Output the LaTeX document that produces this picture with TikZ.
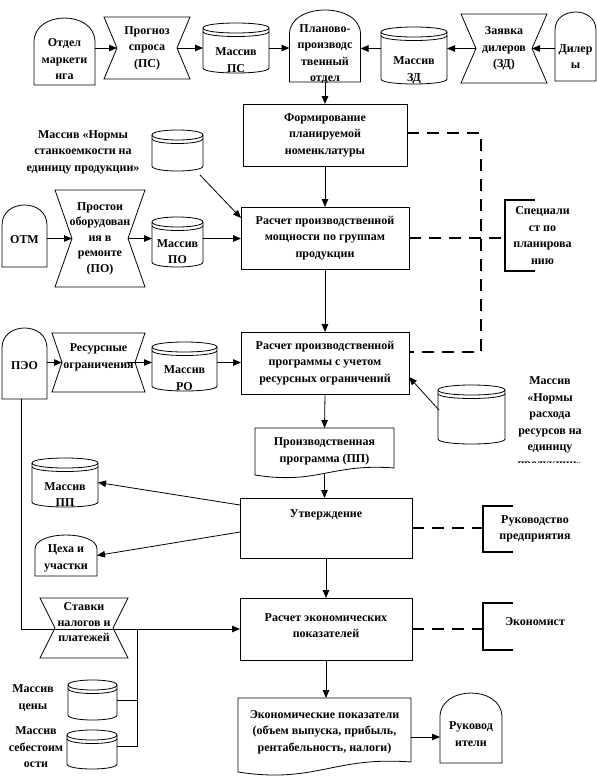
\documentclass[tikz,border=0pt]{standalone}
\usepackage{fontspec}
\setmainfont{Liberation Serif}
\usetikzlibrary{calc,arrows.meta}
\newcommand\drawcyl[1]{%
 \draw[shp] ($(#1.north west)+(0,5)$) .. controls ($(#1.north west)+(0,-1.667)$) and ($(#1.north east)+(0,-1.667)$) .. ($(#1.north east)+(0,5)$) -- ($(#1.south east)+(0,-5)$) .. controls ($(#1.south east)+(0,1.667)$) and ($(#1.south west)+(0,1.667)$) .. ($(#1.south west)+(0,-5)$) -- cycle;
 \draw[shp] ($(#1.north west)+(0,5)$) .. controls ($(#1.north west)+(0,11.667)$) and ($(#1.north east)+(0,11.667)$) .. ($(#1.north east)+(0,5)$);
 \draw[shp] ($(#1.north west)+(0,8.5)$) .. controls ($(#1.north west)+(0,15.167)$) and ($(#1.north east)+(0,15.167)$) .. ($(#1.north east)+(0,8.5)$);}
\newcommand\drawarch[2]{%
 \draw[shp] (#1.south west) -- ($(#1.north west)+(0,#2)$) .. controls ($(#1.north west)+(0,-#2/3)$) and ($(#1.north east)+(0,-#2/3)$) .. ($(#1.north east)+(0,#2)$) -- (#1.south east) -- cycle;}
\newcommand\drawbow[2]{%
 \draw[shp] (#1.north west) -- (#1.north east) -- ($(#1.east)+(-#2,0)$) -- (#1.south east) -- (#1.south west) -- ($(#1.west)+(#2,0)$) -- cycle;}
\newcommand\drawbox[1]{\draw[shp] (#1.north west) rectangle (#1.south east);}
\newcommand\drawbrk[1]{\draw[brk] ($(#1.north west)+(30,0)$) -- (#1.north west) -- (#1.south west) -- ($(#1.south west)+(30,0)$);}
\newcommand\drawdoc[4]{%
 \draw[shp] ($(#1.south east)+(0,-#4)$) -- (#1.north east) -- (#1.north west) -- (#1.south west) .. controls ($(#1.south west)!0.45!(#1.south east)+(0,#2)$) and ($(#1.south west)!0.55!(#1.south east)+(0,-#3)$) .. ($(#1.south east)+(0,-#4)$);}
\begin{document}
\begin{tikzpicture}[x=1pt,y=-1pt,
 fp/.style={rectangle,inner sep=0pt,outer sep=0pt},
 txt/.style={font=\fontsize{12}{16.5}\selectfont\bfseries,align=center,inner sep=0pt},
 txts/.style={font=\fontsize{12}{15.5}\selectfont\bfseries,align=center,inner sep=0pt},
 shp/.style={draw=black,line width=0.8pt},
 arr/.style={draw=black,line width=0.8pt,-{Triangle[length=8pt,width=6.5pt]}},
 ln/.style={draw=black,line width=0.8pt},
 dsh/.style={draw=black,line width=2.6pt,dash pattern=on 12pt off 8pt},
 brk/.style={draw=black,line width=1.4pt}]
\useasboundingbox (0,0) rectangle (597,782);
% ---- top row
\node[fp,minimum width=61pt,minimum height=67pt,label={[txt,yshift=-8pt]center:{Отдел\\маркети\\нга}}] (om) at (64.5,51.5) {};
\node[fp,txt,minimum width=86pt,minimum height=62pt] (ps) at (147,48) {Прогноз\\спроса\\(ПС)};
\node[fp,minimum width=66pt,minimum height=50pt,label={[txt,yshift=-12pt]center:{Массив\\ПС}}] (mps) at (236,48) {};
\node[fp,minimum width=71pt,minimum height=72pt,label={[txt,yshift=-8pt]center:{Планово-\\производс\\твенный\\отдел}}] (ppo) at (325,46) {};
\node[fp,minimum width=66pt,minimum height=57pt,label={[txt,yshift=-15pt]center:{Массив\\ЗД}}] (mzd) at (414,55.5) {};
\node[fp,txt,minimum width=86pt,minimum height=69pt] (zd) at (504,48.5) {Заявка\\дилеров\\(ЗД)};
\node[fp,minimum width=41pt,minimum height=69pt,label={[txt,yshift=-10pt]center:{Дилер\\ы}}] (dl) at (575.5,46.5) {};
% ---- second block
\node[fp,txt,minimum width=164pt,minimum height=62pt] (fn) at (325,135) {Формирование\\планируемой\\номенклатуры};
\node[txt] (mstt) at (83,152) {Массив «Нормы\\станкоемкости на\\единицу продукции»};
\node[fp,minimum width=51pt,minimum height=41pt] (cst) at (177.5,150.5) {};
\node[fp,txt,minimum width=168pt,minimum height=62pt] (rm) at (325,238) {Расчет производственной\\мощности по группам\\продукции};
\node[fp,minimum width=45pt,minimum height=62pt,label={[txt,yshift=-4pt]center:ОТМ}] (otm) at (24.5,236) {};
\node[fp,txts,minimum width=90pt,minimum height=97pt] (po) at (100,238.5) {Простои\\оборудован\\ия в\\ремонте\\(ПО)};
\node[fp,minimum width=51pt,minimum height=50pt,label={[txt,yshift=-9.5pt]center:{Массив\\ПО}}] (mpo) at (177.5,242) {};
\node[fp,txt,minimum width=75pt,minimum height=71pt] (sp) at (542.5,235.5) {Специали\\ст по\\планирова\\нию};
% ---- third block
\node[fp,minimum width=45pt,minimum height=71pt,label={[txt,yshift=-2pt]center:ПЭО}] (peo) at (24.5,363.5) {};
\node[fp,minimum width=93pt,minimum height=59pt,label={[txt,yshift=5pt]center:{Ресурсные\\ограничения}}] (ro) at (98.5,362.5) {};
\node[fp,minimum width=65pt,minimum height=49pt,label={[txt,yshift=-11.5pt]center:{Массив\\РО}}] (mro) at (184.5,366.5) {};
\node[fp,txt,minimum width=168pt,minimum height=62pt] (rp) at (325,363) {Расчет производственной\\программы с учетом\\ресурсных ограничений};
\node[fp,minimum width=67pt,minimum height=59pt] (nrr) at (471.5,414.5) {};
\begin{scope}
\clip (505,360) rectangle (597,462.2);
\node[txt] (nrrt) at (550,423.5) {Массив\\«Нормы\\расхода\\ресурсов на\\единицу\\продукции»};
\end{scope}
\node[fp,txt,minimum width=139pt,minimum height=47pt] (pp) at (324.5,451.5) {Производственная\\программа (ПП)};
% ---- fourth block
\node[fp,minimum width=66pt,minimum height=49pt,label={[txt,yshift=-12pt]center:{Массив\\ПП}}] (mpp) at (65,482.5) {};
\node[fp,minimum width=172pt,minimum height=60pt,label={[txt,yshift=13pt]center:Утверждение}] (ut) at (326,528) {};
\node[fp,minimum width=62pt,minimum height=41pt,label={[txt,yshift=-3pt]center:{Цеха и\\участки}}] (ceh) at (66,555.5) {};
\node[fp,txt,minimum width=104pt,minimum height=46pt] (rukp) at (535,529) {Руководство\\предприятия};
\node[fp,minimum width=88pt,minimum height=60pt,label={[txts,yshift=5.5pt]center:{Ставки\\налогов и\\платежей}}] (st) at (84,628) {};
\node[fp,minimum width=172pt,minimum height=62pt,label={[txt,yshift=3.5pt]center:{Расчет экономических\\показателей}}] (re) at (326,629) {};
\node[fp,minimum width=104pt,minimum height=47pt,label={[txt,yshift=4.5pt]center:Экономист}] (ek) at (535,626.5) {};
\node[fp,minimum width=49pt,minimum height=40pt] (mc) at (92.5,700) {};
\node[txt] (mct) at (33,698) {Массив\\цены};
\node[fp,minimum width=50pt,minimum height=39pt] (mss) at (92,749.5) {};
\node[txt] (msst) at (36,747.5) {Массив\\себестоим\\ости};
\node[fp,minimum width=173pt,minimum height=74pt,label={[txt,yshift=3pt]center:{Экономические показатели\\(объем выпуска, прибыль,\\рентабельность, налоги)}}] (ep) at (324.5,735) {};
\node[fp,minimum width=62pt,minimum height=70pt,label={[txt,yshift=-6pt]center:{Руковод\\ители}}] (ruk) at (471,728) {};
% ---- shapes
\drawarch{om}{24} \drawbow{ps}{13} \drawcyl{mps} \drawarch{ppo}{24} \drawcyl{mzd} \drawbow{zd}{15} \drawarch{dl}{18}
\drawbox{fn} \drawcyl{cst} \drawbox{rm} \drawarch{otm}{20} \drawbow{po}{17} \drawcyl{mpo} \drawbrk{sp}
\drawarch{peo}{20} \drawbow{ro}{10} \drawcyl{mro} \drawbox{rp} \drawcyl{nrr} \drawdoc{pp}{10}{12}{7}
\drawcyl{mpp} \drawbox{ut} \drawarch{ceh}{14} \drawbrk{rukp} \drawbow{st}{15} \drawbox{re} \drawbrk{ek}
\drawcyl{mc} \drawcyl{mss} \drawdoc{ep}{12}{16}{10} \drawarch{ruk}{24}
% ---- helper coordinates
\coordinate (dv) at (481,0);
\coordinate (dyA) at (0,133);
\coordinate (dyB) at (0,352);
\coordinate (jx) at (137,629);
\coordinate (yy) at (0,737);
% ---- connectors
\draw[arr] (om.east |- ps.west) -- ($(ps.west)+(13,0)$);
\draw[arr] ($(ps.east)+(-13,0)$) -- (mps.west |- ps.east);
\draw[arr] (mps.east |- ps.east) -- (ppo.west |- ps.east);
\draw[arr] (mzd.west |- zd.west) -- (ppo.east |- zd.west);
\draw[arr] ($(zd.west)+(15,0)$) -- (mzd.east |- zd.west);
\draw[arr] (dl.west |- zd.east) -- ($(zd.east)+(-15,0)$);
\draw[arr] (ppo.south) -- (ppo.south |- fn.north);
\draw[arr] (fn.south) -- (rm.north);
\draw[arr] ($(cst.south east)+(-3,4)$) -- ($(rm.north west)+(0,11)$);
\draw[arr] (otm.east |- po.west) -- ($(po.west)+(17,0)$);
\draw[arr] ($(po.east)+(-17,0)$) -- (mpo.west |- po.east);
\draw[arr] (mpo.east |- po.east) -- (rm.west |- po.east);
\draw[arr] (peo.east |- ro.west) -- ($(ro.west)+(10,0)$);
\draw[arr] ($(ro.east)+(-18,0)$) -- (mro.west |- ro.west);
\draw[arr] (mro.east |- ro.west) -- (rp.west |- ro.west);
\draw[arr] (rm.south) -- (rp.north);
\draw[arr] ($(nrr.west)+(1,-4.5)$) -- ($(rp.south east)+(0,-17)$);
\draw[arr] (rp.south) -- (pp.north);
\draw[arr] ($(pp.south)+(0,-2)$) -- (pp.south |- ut.north);
\draw[arr] ($(ut.north west)+(0,7)$) -- (mpp.east);
\draw[arr] ($(ut.north west)+(0,34)$) -- (ceh.east);
\draw[arr] (ut.south) -- (re.north);
\draw[arr] ($(peo.south west)+(19,0)$) |- (re.west);
\draw[ln] (mc.east) -| (jx);
\draw[ln] (mss.east |- 0,746) -| (jx);
\draw[arr] (re.south) -- (re.south |- ep.north);
\draw[arr] (ep.east |- yy) -- (ruk.west |- yy);
% ---- dashed
\draw[dsh] (fn.east |- dyA) -- (dv |- dyA) -- (dv |- dyB) -- (rp.east |- dyB);
\draw[dsh] (rm.east) -- (sp.west |- rm.east);
\draw[dsh] (ut.east) -- (rukp.west |- ut.east);
\draw[dsh] (re.east) -- (ek.west |- re.east);
\end{tikzpicture}
\end{document}
